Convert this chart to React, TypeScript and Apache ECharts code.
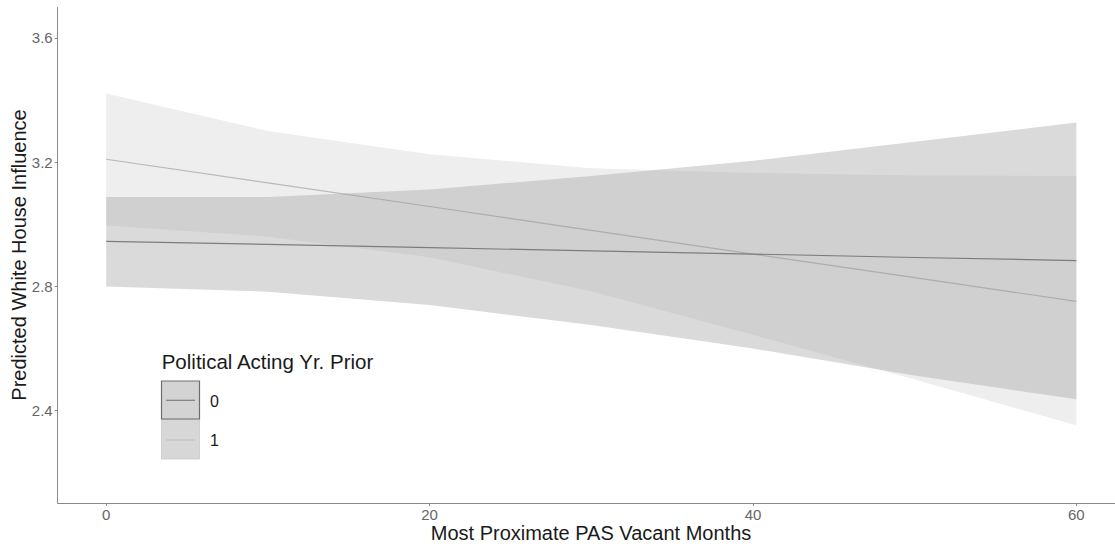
import React, { useEffect, useRef } from "react";
import * as echarts from "echarts";

// x positions (Most Proximate PAS Vacant Months)
const months = [0, 10, 20, 30, 40, 50, 60];
// Political Acting Yr. Prior = 0
const fit0 = [2.945, 2.935, 2.925, 2.914, 2.904, 2.893, 2.883];
const lower0 = [2.8, 2.783, 2.74, 2.676, 2.6, 2.513, 2.437];
const upper0 = [3.088, 3.088, 3.112, 3.155, 3.204, 3.265, 3.327];
// Political Acting Yr. Prior = 1
const fit1 = [3.209, 3.133, 3.057, 2.98, 2.904, 2.828, 2.752];
const lower1 = [2.996, 2.96, 2.894, 2.784, 2.644, 2.5, 2.353];
const upper1 = [3.421, 3.3, 3.225, 3.18, 3.165, 3.157, 3.155];

const xTicks = [0, 20, 40, 60];
const yTicks = [2.4, 2.8, 3.2, 3.6];

const legendTitle = "Political Acting Yr. Prior";
const groupLabels = ["0", "1"];
const xTitle = "Most Proximate PAS Vacant Months";
const yTitle = "Predicted White House Influence";

const FONT = "Liberation Sans, Arial, sans-serif";

function ribbon(name: string, lo: number[], hi: number[], fill: string, z: number) {
  return {
    type: "custom",
    name,
    z,
    clip: true,
    silent: true,
    data: months.map((m, i) => [m, lo[i], hi[i]]),
    encode: { x: 0, y: [1, 2] },
    renderItem: (params: any, api: any) => {
      if (params.dataIndex !== 0) return null;
      const pts: number[][] = [];
      for (let i = 0; i < months.length; i++) pts.push(api.coord([months[i], hi[i]]));
      for (let i = months.length - 1; i >= 0; i--) pts.push(api.coord([months[i], lo[i]]));
      return { type: "polygon", shape: { points: pts }, style: { fill, stroke: null } };
    },
  };
}

export default function App() {
  const ref = useRef<HTMLDivElement>(null);
  useEffect(() => {
    if (!ref.current) return;
    const chart = echarts.init(ref.current, undefined, { renderer: "svg" });
    chart.setOption({
      animation: false,
      backgroundColor: "#ffffff",
      grid: { left: 57.7, top: 7.3, width: 1057.3, height: 495.7, containLabel: false },
      xAxis: {
        type: "value",
        min: -3,
        max: 62.39,
        splitLine: { show: false },
        axisLine: { show: true, onZero: false, lineStyle: { color: "#8a8a8a", width: 1 } },
        axisTick: { show: true, length: 3, lineStyle: { color: "#8a8a8a" }, customValues: xTicks },
        axisLabel: {
          show: true,
          margin: 4,
          color: "#666666",
          fontSize: 15,
          fontFamily: FONT,
          customValues: xTicks,
          formatter: (v: number) => String(v),
        },
      },
      yAxis: {
        type: "value",
        min: 2.103,
        max: 3.698,
        splitLine: { show: false },
        axisLine: { show: true, onZero: false, lineStyle: { color: "#8a8a8a", width: 1 } },
        axisTick: { show: true, length: 3, lineStyle: { color: "#8a8a8a" }, customValues: yTicks },
        axisLabel: {
          show: true,
          margin: 5,
          color: "#666666",
          fontSize: 15,
          fontFamily: FONT,
          customValues: yTicks,
          formatter: (v: number) => v.toFixed(1),
        },
      },
      series: [
        ribbon("ci1", lower1, upper1, "#eeeeee", 1),
        ribbon("ci0", lower0, upper0, "rgba(166,166,166,0.41)", 2),
        {
          type: "line",
          name: "0",
          z: 4,
          data: months.map((m, i) => [m, fit0[i]]),
          showSymbol: false,
          symbol: "none",
          lineStyle: { color: "#7d7d7d", width: 1.2 },
        },
        {
          type: "line",
          name: "1",
          z: 3,
          data: months.map((m, i) => [m, fit1[i]]),
          showSymbol: false,
          symbol: "none",
          lineStyle: { color: "rgba(150,150,150,0.6)", width: 1.2 },
        },
      ],
      graphic: [
        {
          type: "text",
          x: 591,
          y: 533,
          style: {
            text: xTitle,
            font: `20px ${FONT}`,
            fill: "#1a1a1a",
            textAlign: "center",
            textVerticalAlign: "middle",
          },
        },
        {
          type: "text",
          x: 19,
          y: 255,
          rotation: Math.PI / 2,
          style: {
            text: yTitle,
            font: `20px ${FONT}`,
            fill: "#1a1a1a",
            textAlign: "center",
            textVerticalAlign: "middle",
          },
        },
        {
          type: "text",
          x: 161.7,
          y: 361,
          style: {
            text: legendTitle,
            font: `20.5px ${FONT}`,
            fill: "#1a1a1a",
            textAlign: "left",
            textVerticalAlign: "middle",
          },
        },
        {
          type: "rect",
          shape: { x: 161.5, y: 419.5, width: 38, height: 39.5 },
          style: { fill: "#d7d7d7", stroke: "#cfcfcf", lineWidth: 1 },
        },
        {
          type: "line",
          shape: { x1: 166, y1: 440, x2: 195, y2: 440 },
          style: { stroke: "#c2c2c2", lineWidth: 1.2 },
        },
        {
          type: "rect",
          shape: { x: 161.5, y: 381, width: 38, height: 38 },
          style: { fill: "#d3d3d3", stroke: "#6e6e6e", lineWidth: 1.2 },
        },
        {
          type: "line",
          shape: { x1: 166, y1: 400.3, x2: 195, y2: 400.3 },
          style: { stroke: "#7d7d7d", lineWidth: 1.2 },
        },
        {
          type: "text",
          x: 210,
          y: 401,
          style: {
            text: groupLabels[0],
            font: `16px ${FONT}`,
            fill: "#1a1a1a",
            textAlign: "left",
            textVerticalAlign: "middle",
          },
        },
        {
          type: "text",
          x: 210,
          y: 440,
          style: {
            text: groupLabels[1],
            font: `16px ${FONT}`,
            fill: "#1a1a1a",
            textAlign: "left",
            textVerticalAlign: "middle",
          },
        },
      ],
    });
    return () => chart.dispose();
  }, []);
  return (
    <div
      ref={ref}
      style={{ position: "fixed", left: 0, top: 0, width: 1115, height: 546, background: "#fff" }}
    />
  );
}
